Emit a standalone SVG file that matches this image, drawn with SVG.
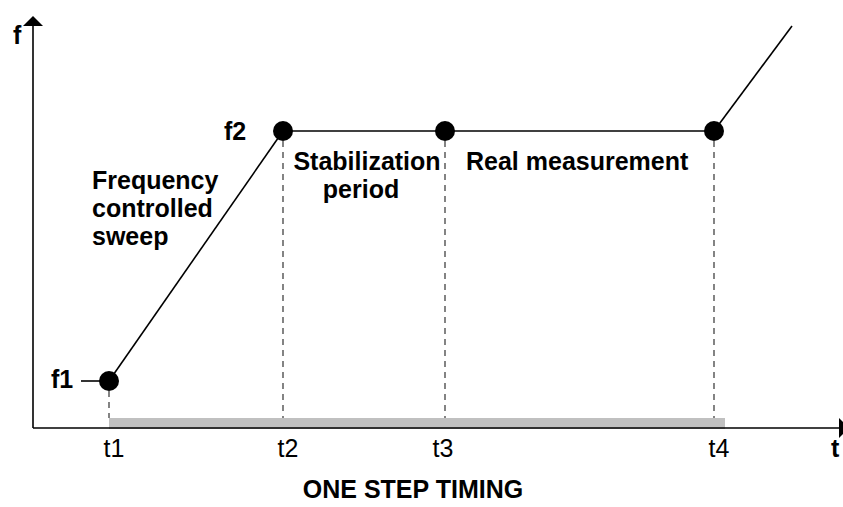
<svg xmlns="http://www.w3.org/2000/svg" width="843" height="507" viewBox="0 0 843 507">
<style>
text{font-family:"Liberation Sans",Arial,sans-serif;font-size:25px;fill:#000}
.b{font-weight:bold}
.ax{stroke:#000;stroke-width:1.6;fill:none}
.ln{stroke:#000;stroke-width:1.6;fill:none}
.dash{stroke:#333;stroke-width:1.2;stroke-dasharray:6,5;fill:none}
.pt{fill:#000}
</style>
<rect width="843" height="507" fill="#fff"/>
<g id="axes">
<line class="ax" x1="33" y1="24" x2="33" y2="428"/>
<polygon points="33,16 23,26 43,26" fill="#000"/>
<rect x="109" y="418" width="616" height="11" fill="#c0c0c0"/>
<line class="ax" x1="33" y1="428" x2="840" y2="428"/>
<polygon points="849,428 839,418 839,438" fill="#000"/>
<text class="b" x="13" y="44">f</text>
<text class="b" x="831" y="457">t</text>
</g>
<g id="connectors">
<line class="ln" x1="81" y1="381" x2="109" y2="381"/>
<line class="ln" x1="109" y1="381" x2="283" y2="131"/>
<line class="ln" x1="283" y1="131" x2="714" y2="131"/>
<line class="ln" x1="714" y1="131" x2="792" y2="26"/>
<line class="dash" x1="109" y1="391" x2="109" y2="418"/>
<line class="dash" x1="283" y1="141" x2="283" y2="418"/>
<line class="dash" x1="445" y1="141" x2="445" y2="418"/>
<line class="dash" x1="714" y1="141" x2="714" y2="418"/>
</g>
<g id="p1"><circle class="pt" cx="109" cy="381" r="10"/><text class="b" x="51" y="388">f1</text></g>
<g id="p2"><circle class="pt" cx="283" cy="131" r="10"/><text class="b" x="224" y="140">f2</text></g>
<g id="p3"><circle class="pt" cx="445" cy="131" r="10"/></g>
<g id="p4"><circle class="pt" cx="714" cy="131" r="10"/></g>
<g id="ticks">
<text x="114" y="457" text-anchor="middle">t1</text>
<text x="288" y="457" text-anchor="middle">t2</text>
<text x="443" y="457" text-anchor="middle">t3</text>
<text x="719" y="457" text-anchor="middle">t4</text>
</g>
<g id="labels">
<text class="b" x="92" y="189">Frequency</text>
<text class="b" x="92" y="217">controlled</text>
<text class="b" x="92" y="245">sweep</text>
<text class="b" x="367" y="170" text-anchor="middle">Stabilization</text>
<text class="b" x="361" y="198" text-anchor="middle">period</text>
<text class="b" x="466" y="170">Real measurement</text>
<text class="b" x="413" y="498" text-anchor="middle">ONE STEP TIMING</text>
</g>
</svg>
